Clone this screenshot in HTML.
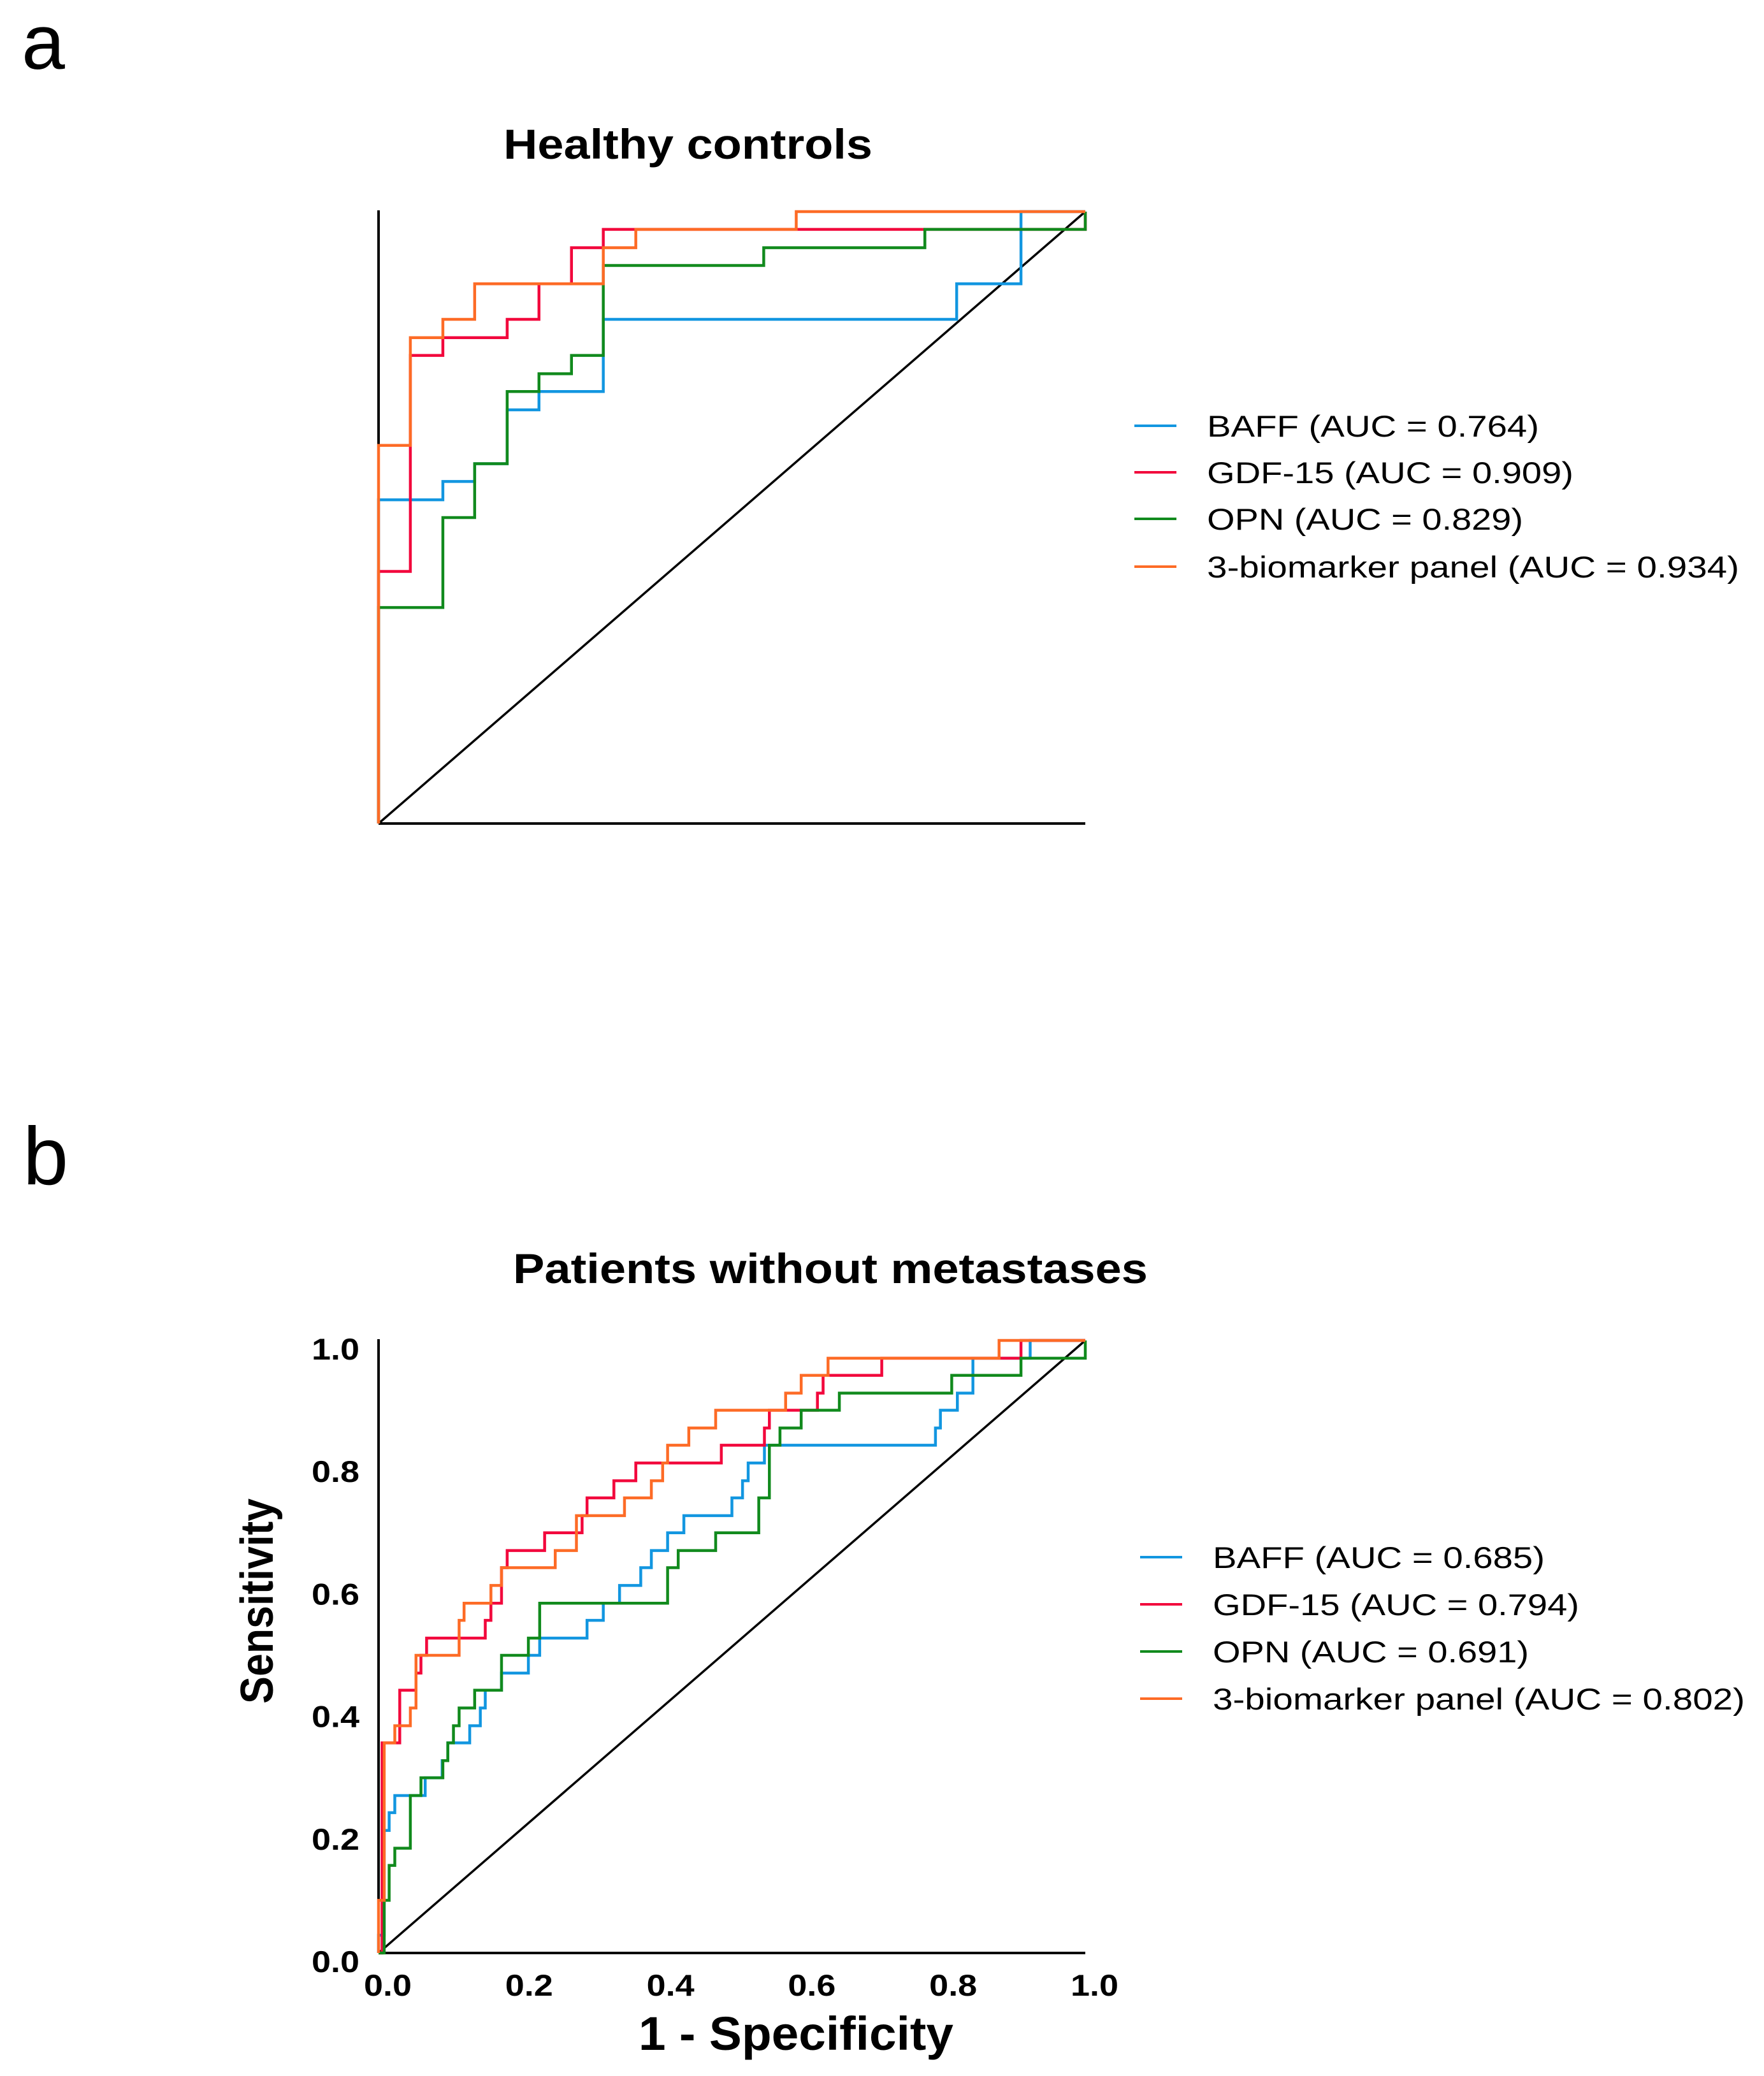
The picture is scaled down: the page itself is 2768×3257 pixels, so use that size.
<!DOCTYPE html>
<html><head><meta charset="utf-8"><style>
html,body{margin:0;padding:0;background:#fff;}
svg{display:block;font-family:"Liberation Sans",Arial,sans-serif;}
</style></head><body>
<svg id="fig" width="2768" height="3257" viewBox="0 0 2768 3257" xmlns="http://www.w3.org/2000/svg">
<rect width="2768" height="3257" fill="#fff"/>
<text x="34" y="108" font-size="122" fill="#000">a</text>
<text x="36" y="1858" font-size="128" fill="#000">b</text>
<text x="790" y="249" font-size="66" font-weight="bold" textLength="579" lengthAdjust="spacingAndGlyphs">Healthy controls</text>
<text x="805" y="2013" font-size="66" font-weight="bold" textLength="996" lengthAdjust="spacingAndGlyphs">Patients without metastases</text>
<g id="pa"></g>
<g id="pb"></g>
<text x="1002" y="3216" font-size="74" font-weight="bold" textLength="494" lengthAdjust="spacingAndGlyphs">1 - Specificity</text>
<text x="-161" y="0" font-size="72" font-weight="bold" textLength="322" lengthAdjust="spacingAndGlyphs" transform="translate(428,2512) rotate(-90)">Sensitivity</text>
</svg>
<script>
const seriesNames=["BAFF","GDF-15","OPN","3-biomarker panel"];
const colors=["#1296e0","#f2073c","#118a1d","#fd6b26"];
const aucA=["0.764","0.909","0.829","0.934"];
const aucB=["0.685","0.794","0.691","0.802"];
const tickLabels=["0.0","0.2","0.4","0.6","0.8","1.0"];
const tickValues=[0,0.2,0.4,0.6,0.8,1.0];
// Panel a
const aBaffFpr=[0,0,.091,.136,.182,.227,.318,.818,.909,1];
const aBaffTpr=[0,.529,.559,.588,.676,.706,.824,.882,1,1];
const aGdfFpr=[0,0,.045,.091,.182,.227,.273,.318,1];
const aGdfTpr=[0,.412,.765,.794,.824,.882,.941,.971,1];
const aOpnFpr=[0,0,.091,.136,.182,.227,.273,.318,.545,.773,1];
const aOpnTpr=[0,.353,.5,.588,.706,.735,.765,.912,.941,.971,1];
const aPanFpr=[0,0,.045,.091,.136,.318,.364,.591,1];
const aPanTpr=[0,.618,.794,.824,.882,.941,.971,1,1];
// Panel b
const bBaffFpr=[0,0,.008,.015,.023,.066,.09,.098,.129,.144,.151,.174,.212,.228,.295,.318,.341,.371,.386,.409,.432,.5,.515,.523,.546,.788,.795,.819,.841,.922,1];
const bBaffTpr=[0,.029,.2,.229,.257,.286,.314,.343,.371,.4,.429,.457,.486,.514,.543,.571,.6,.629,.657,.686,.714,.743,.771,.8,.829,.857,.886,.914,.971,1,1];
const bGdfFpr=[0,.005,.03,.053,.06,.068,.151,.159,.174,.182,.235,.288,.295,.333,.364,.485,.546,.553,.621,.629,.712,.909,1];
const bGdfTpr=[0,.343,.429,.457,.486,.514,.543,.571,.629,.657,.686,.714,.743,.771,.8,.829,.857,.886,.914,.943,.971,1,1];
const bOpnFpr=[0,.008,.015,.023,.045,.06,.091,.098,.106,.114,.136,.174,.212,.228,.409,.424,.477,.538,.553,.568,.598,.652,.811,.909,1];
const bOpnTpr=[0,.086,.143,.171,.257,.286,.314,.343,.371,.4,.429,.486,.514,.571,.629,.657,.686,.743,.829,.857,.886,.914,.943,.971,1];
const bPanFpr=[0,0,.008,.023,.045,.053,.114,.121,.159,.174,.25,.28,.348,.386,.402,.409,.439,.477,.576,.598,.636,.878,1];
const bPanTpr=[0,.086,.343,.371,.4,.486,.543,.571,.6,.629,.657,.714,.743,.771,.8,.829,.857,.886,.914,.943,.971,1,1];

const legendLens=[521,575,496,835];
const NS="http://www.w3.org/2000/svg";
function mk(tag,attrs,parent){const e=document.createElementNS(NS,tag);for(const k in attrs)e.setAttribute(k,attrs[k]);parent.appendChild(e);return e;}
function drawPanel(g,x0,x1,y0,y1,series,auc,legX,legY,ticks,key){
  const sx=v=>x0+v*(x1-x0), sy=v=>y0-v*(y0-y1);
  const ya=mk('line',{x1:x0,y1:y0,x2:x0,y2:y1-2,stroke:'#000','stroke-width':4},g);
  
  
  const xa=mk('line',{x1:x0,y1:y0,x2:x1,y2:y0,stroke:'#000','stroke-width':4},g);
  
  
  const dg=mk('line',{x1:sx(0),y1:sy(0),x2:sx(1),y2:sy(1),stroke:'#000','stroke-width':3.5},g);
  
  
  series.forEach((s,i)=>{
    const fx=s[0],ty=s[1];
    let d='M'+sx(fx[0])+' '+sy(ty[0]);
    for(let k=1;k<fx.length;k++){d+=' H'+sx(fx[k])+' V'+sy(ty[k]);}
    const p=mk('path',{d:d,fill:'none',stroke:colors[i],'stroke-width':4.5},g);
    
    
  });
  seriesNames.forEach((n,i)=>{
    const y=legY[i];
    const l=mk('line',{x1:legX,y1:y,x2:legX+66,y2:y,stroke:colors[i],'stroke-width':4},g);
    
    
    const t=mk('text',{x:legX+114,y:y+17,'font-size':47,fill:'#000',textLength:legendLens[i],lengthAdjust:'spacingAndGlyphs'},g);
    t.textContent=n+' (AUC = '+auc[i]+')';
    
    
  });
  if(ticks){
    tickValues.forEach((v,i)=>{
      const ty=mk('text',{x:x0-30-75,y:sy(v)+30,'font-size':47,'font-weight':'bold',textLength:75,lengthAdjust:'spacingAndGlyphs'},g);
      ty.textContent=tickLabels[i];
      
      
      const tx=mk('text',{x:sx(v)+14-37,y:3131,'font-size':47,'font-weight':'bold',textLength:75,lengthAdjust:'spacingAndGlyphs'},g);
      tx.textContent=tickLabels[i];
      
      
    });
  }
}
drawPanel(document.getElementById('pa'),594,1703,1292,332,
  [[aBaffFpr,aBaffTpr],[aGdfFpr,aGdfTpr],[aOpnFpr,aOpnTpr],[aPanFpr,aPanTpr]],
  aucA,1780,[668,741,814,889],false,'panel-a');
drawPanel(document.getElementById('pb'),594,1703,3064,2103,
  [[bBaffFpr,bBaffTpr],[bGdfFpr,bGdfTpr],[bOpnFpr,bOpnTpr],[bPanFpr,bPanTpr]],
  aucB,1789,[2443,2517,2591,2665],true,'panel-b');
</script>
</body></html>
